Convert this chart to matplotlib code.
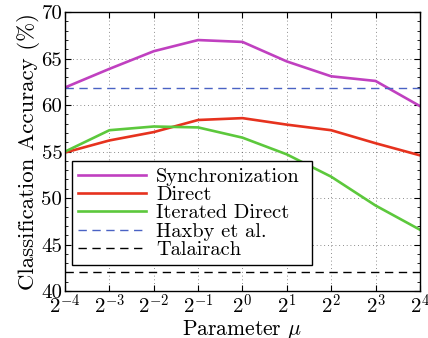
import matplotlib
matplotlib.use("Agg")
import matplotlib.pyplot as plt
from matplotlib.ticker import MultipleLocator

plt.rcParams['font.family'] = 'cmr10'
plt.rcParams['mathtext.fontset'] = 'cm'
plt.rcParams['axes.unicode_minus'] = False

exponents = [-4, -3, -2, -1, 0, 1, 2, 3, 4]
tick_labels = ['$2^{%d}$' % e for e in exponents]

sync = [61.9, 63.9, 65.8, 67.0, 66.8, 64.7, 63.1, 62.6, 59.9]
direct = [54.9, 56.2, 57.1, 58.4, 58.6, 57.9, 57.3, 55.9, 54.6]
iterated = [55.0, 57.3, 57.7, 57.6, 56.5, 54.7, 52.3, 49.2, 46.6]
haxby = 61.8
talairach = 42.0

fig = plt.figure(figsize=(4.28, 3.38), dpi=100)
ax = fig.add_axes([0.152, 0.139, 0.829, 0.825])

ax.plot(exponents, sync, color='#c040c0', lw=1.9, label='Synchronization')
ax.plot(exponents, direct, color='#e6321e', lw=1.9, label='Direct')
ax.plot(exponents, iterated, color='#5cc83c', lw=1.9, label='Iterated Direct')
ax.axhline(haxby, color='#4a62c4', lw=1.0, ls=(0, (6, 4)), label='Haxby et al.')
ax.axhline(talairach, color='black', lw=1.0, ls=(0, (6, 4)), label='Talairach')

ax.set_xlim(-4, 4)
ax.set_ylim(40, 70)
ax.set_xticks(exponents)
ax.set_xticklabels(tick_labels)
ax.yaxis.set_major_locator(MultipleLocator(5))
ax.yaxis.set_minor_locator(MultipleLocator(1))
ax.tick_params(which='both', direction='in', top=True, right=True, labelsize=15)
ax.tick_params(which='major', length=4, pad=2)
ax.tick_params(which='minor', length=2)
ax.grid(True, which='major', color='black', ls=(0, (1, 3.5)), lw=0.6, alpha=0.6)
for s in ax.spines.values():
    s.set_linewidth(1.0)

ax.set_xlabel(r'Parameter $\mu$', fontsize=15.5, labelpad=0)
ax.set_ylabel('Classification Accuracy (%)', fontsize=16.5, labelpad=1)

leg = ax.legend(loc='lower left', bbox_to_anchor=(0.02, 0.093, 0.676, 0.369),
                mode='expand', fontsize=14.7, handlelength=3.3, labelspacing=0.0,
                borderaxespad=0, fancybox=False, framealpha=1, borderpad=0.3,
                handletextpad=0.5)
leg.get_frame().set_edgecolor('black')
leg.get_frame().set_linewidth(1.0)

fig.savefig('out.png', dpi=100)
